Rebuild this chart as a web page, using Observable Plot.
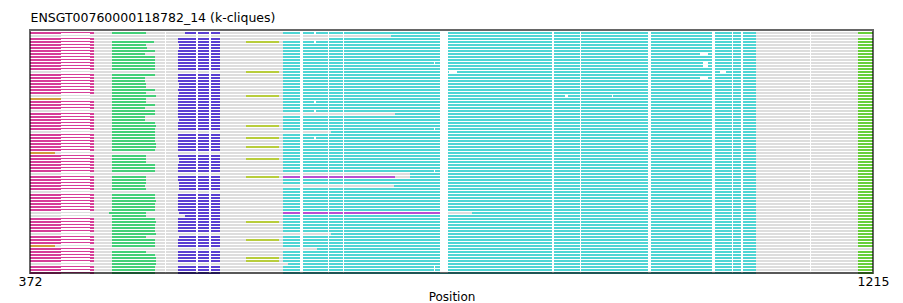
<!DOCTYPE html>
<html><head><meta charset="utf-8">
<script src="https://cdn.jsdelivr.net/npm/d3@7"></script>
<script src="https://cdn.jsdelivr.net/npm/@observablehq/plot@0.6"></script>
<style>body{margin:0;background:#fff} #chart svg{display:block}</style>
</head><body><div id="chart"></div>
<script>
// ---- data ----
const title = "ENSGT00760000118782_14 (k-cliques)";
const xLabel = "Position";
const xTicks = [372, 1215];
const nRows = 81;
// left clique: m = magenta, o = orange, s = short orange, - = none
const leftBlock = ("m-mmmmmmmm" + "mmm-mmmmmm" + "m-ommm-mmm" + "mmm-mmmmmm" +
  "smmmmmm-mm" + "mmm-mmmmmm" + "--mmmmm-mm" + "msmmmmm-mm" + "m").split("");
const greenEnd = [488,0,0,496,488,489,497,487,497,497, 497,497,497,0,497,487,487,488,488,497,
  488,498,488,488,497,487,497,497,487,487, 497,498,497,497,497,497,497,498,498,497,
  0,488,488,488,497,497,497,0,488,488, 488,487,488,0,497,497,498,497,497,497,
  488,488,497,498,497,497,497,498,488,497, 497,497,0,488,497,498,498,498,497,497, 497];
const greenStartOverride = {60: 451};
const blueStart = [527,0,520,520,521,521,520,520,520,520, 520,520,520,0,520,520,520,521,521,520,
  521,520,520,520,520,520,520,520,520,521, 520,520,520,0,520,520,520,520,520,520,
  0,520,521,521,520,520,520,0,520,520, 521,521,521,0,520,520,520,520,520,520,
  521,527,520,520,520,520,520,0,521,520, 520,520,0,520,520,520,520,0,520,520, 520];
const yellowRows = [3, 13, 21, 31, 35, 38, 42, 48, 63, 69, 75, 76];
const cyanStartOverride = {1: 733, 2: 670, 27: 737, 33: 673, 47: 752, 48: 752, 51: 736, 60: 814, 67: 673, 72: 659, 77: 630};
const purpleSegs = [[48, 625, 737], [60, 625, 782]];
const limeMissing = [1, 72];
const gapColumns = [[507,508],[538,540],[551,553],[642,645],[670,671],[685,686],[782,790],
  [894,896],[922,923],[990,993],[1054,1057],[1074,1075],[1083,1085],[1152,1153]];
const rowGaps = [[0,656,658],[3,656,658],[23,656,658],[26,656,658],[35,656,658],
  [10,776,777],[32,776,777],[46,776,777],[78,776,777],[79,776,777],
  [7,1042,1050],[15,1042,1050],[10,1045,1050],[11,1045,1050],[13,1062,1068],[13,791,799],
  [21,907,910],[21,954,955]];
// region bounds
const span = [372, 1215];
const magThick1 = [372, 403], magThin = [403, 432], magThick2 = [432, 436];
const orangeEnd = {o: 403, s: 397};
const greenStart = 454, blueEnd = 562, yellowSpan = [588, 621], cyanEnd = 1098, limeSpan = [1200, 1215], cyanStart = 625;

const colors = {grey: "#dddddd", magenta: "#d63e98", orange: "#d39a3d", green: "#44cf78",
  blue: "#5a3fd1", yellow: "#b8cd3c", cyan: "#4fd5d4", purple: "#b84ed2", lime: "#67cf3a"};

// ---- build segments ----
const rows = d3.range(nRows);
const thick = [], thin = [];
for (const r of rows) {
  thick.push({r, a: span[0], b: span[1], c: colors.grey});
  const L = leftBlock[r];
  if (L === "m") {
    thick.push({r, a: magThick1[0], b: magThick1[1], c: colors.magenta});
    thick.push({r, a: magThick2[0], b: magThick2[1], c: colors.magenta});
    thin.push({r, a: magThin[0], b: magThin[1], c: colors.magenta});
  } else {
    if (L === "o" || L === "s") thick.push({r, a: span[0], b: orangeEnd[L], c: colors.orange});
    thin.push({r, a: magThin[0], b: magThin[1], c: colors.grey});
  }
  if (greenEnd[r]) thick.push({r, a: greenStartOverride[r] ?? greenStart, b: greenEnd[r], c: colors.green});
  if (blueStart[r]) thick.push({r, a: blueStart[r], b: blueEnd, c: colors.blue});
  if (yellowRows.includes(r)) thick.push({r, a: yellowSpan[0], b: yellowSpan[1], c: colors.yellow});
  thick.push({r, a: cyanStartOverride[r] ?? cyanStart, b: cyanEnd, c: colors.cyan});
  if (!limeMissing.includes(r)) thick.push({r, a: limeSpan[0], b: limeSpan[1], c: colors.lime});
}
for (const [r, a, b] of purpleSegs) thick.push({r, a, b, c: colors.purple});

const H = 1 / 3; // half bar height in row units
const chart = Plot.plot({
  width: 903, height: 303,
  marginLeft: 30, marginRight: 30, marginTop: 30, marginBottom: 30,
  style: {fontFamily: "DejaVu Sans", fontSize: "12.5px", color: "#000", background: "#fff"},
  x: {domain: span, range: [30, 873], ticks: xTicks, tickSize: 0, tickPadding: 4, tickFormat: d => String(d), label: null},
  y: {domain: [-1, 80], range: [30, 273], axis: null},
  marks: [
    Plot.rect(thick, {x1: "a", x2: "b", y1: d => d.r - H, y2: d => d.r + H, fill: "c"}),
    Plot.rect(gapColumns, {x1: d => d[0], x2: d => d[1], y1: -1, y2: 80, fill: "#fff"}),
    Plot.rect([magThin], {x1: d => d[0], x2: d => d[1], y1: -1, y2: 80, fill: "#fff"}),
    Plot.rect(rowGaps, {x1: d => d[1], x2: d => d[2], y1: d => d[0] - H, y2: d => d[0] + H, fill: "#fff"}),
    Plot.rect(thin, {x1: "a", x2: "b", y1: d => d.r - H, y2: d => d.r, fill: "c"}),
    Plot.frame({stroke: "#000", strokeOpacity: 0.6, strokeWidth: 2, dx: -0.5, dy: -0.5}),
    Plot.text([title], {frameAnchor: "top-left", dy: -9, textAnchor: "start", lineAnchor: "bottom", fontSize: 12.5, fill: "#000"}),
    Plot.text([xLabel], {frameAnchor: "bottom", dy: 27, lineAnchor: "bottom", fontSize: 12, fill: "#000"})
  ]
});
document.getElementById("chart").appendChild(chart);
</script>
</body></html>
